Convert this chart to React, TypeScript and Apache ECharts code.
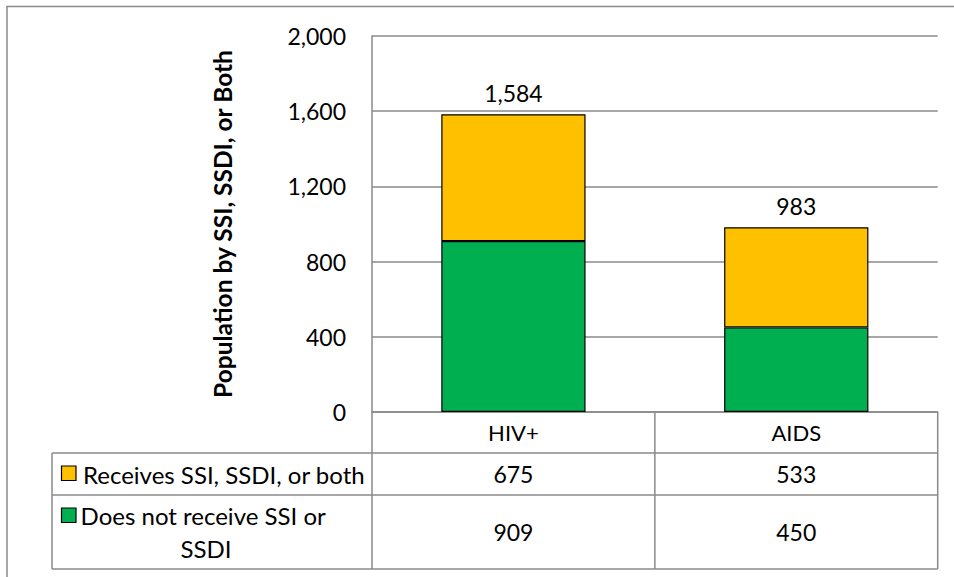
import React, { useEffect, useRef } from "react";
import * as echarts from "echarts";

const categories = ["HIV+", "AIDS"];
const receivesValues = [675, 533];
const notReceivesValues = [909, 450];
const seriesNames = ["Receives SSI, SSDI, or both", "Does not receive SSI or SSDI"];
const seriesColors = ["#FFC000", "#00B050"];
const yAxisTitle = "Population by SSI, SSDI, or Both";
const yMin = 0;
const yMax = 2000;
const yInterval = 400;

const FONT = "Lato, 'Open Sans', sans-serif";
const GRID_LEFT = 372;
const GRID_RIGHT_X = 937.7;
const GRID_TOP = 36;
const AXIS_Y = 412;
const TABLE_LEFT = 52;
const ROW_LINES = [453, 495, 569];
const LINE_COLOR = "#8a8a8a";
const NUM_SIZE = 23;
const LEGEND_SIZE = 24;

const fmt = (v: number) => v.toLocaleString("en-US");

export default function App() {
  const ref = useRef<HTMLDivElement>(null);

  useEffect(() => {
    if (!ref.current) return;
    const chart = echarts.init(ref.current, null, { renderer: "svg" });
    const totals = categories.map((_, i) => receivesValues[i] + notReceivesValues[i]);

    chart.setOption({
      animation: false,
      backgroundColor: "#ffffff",
      grid: {
        left: GRID_LEFT,
        right: 954 - GRID_RIGHT_X,
        top: GRID_TOP,
        bottom: 577 - AXIS_Y,
        containLabel: false,
      },
      xAxis: {
        type: "category",
        data: categories,
        axisLine: { show: true, lineStyle: { color: LINE_COLOR, width: 1.5 } },
        axisTick: { show: false },
        axisLabel: { show: false },
        splitLine: { show: false },
      },
      yAxis: {
        type: "value",
        min: yMin,
        max: yMax,
        interval: yInterval,
        name: yAxisTitle,
        nameLocation: "middle",
        nameRotate: 90,
        nameGap: 137,
        nameTextStyle: { fontFamily: FONT, fontSize: 24.5, fontWeight: "bold", color: "#000" },
        axisLine: { show: true, lineStyle: { color: LINE_COLOR, width: 1.5 } },
        axisTick: { show: false },
        axisLabel: {
          fontFamily: FONT,
          fontSize: NUM_SIZE,
          color: "#000",
          margin: 26,
          formatter: (v: number) => fmt(v),
        },
        splitLine: { show: true, lineStyle: { color: LINE_COLOR, width: 1.5 } },
      },
      series: [
        {
          name: seriesNames[1],
          type: "bar",
          stack: "total",
          data: notReceivesValues,
          barWidth: "51%",
          itemStyle: { color: seriesColors[1], borderColor: "#000", borderWidth: 1.2 },
        },
        {
          name: seriesNames[0],
          type: "bar",
          stack: "total",
          data: receivesValues,
          barWidth: "51%",
          itemStyle: { color: seriesColors[0], borderColor: "#000", borderWidth: 1.2 },
          label: {
            show: true,
            position: "top",
            distance: 10,
            fontFamily: FONT,
            fontSize: NUM_SIZE,
            color: "#000",
            formatter: (p: any) => fmt(totals[p.dataIndex]),
          },
        },
      ],
    });

    const centers = categories.map((c) => chart.convertToPixel({ xAxisIndex: 0 }, c) as number);
    const boundaries = [GRID_LEFT, ...centers.slice(0, -1).map((c, i) => (c + centers[i + 1]) / 2), GRID_RIGHT_X];

    const lineStyle = { stroke: LINE_COLOR, lineWidth: 1.5 };
    const g: any[] = [];
    g.push({ type: "rect", shape: { x: 7, y: 6.5, width: 980, height: 620 }, style: { fill: "none", stroke: LINE_COLOR, lineWidth: 1.5 }, silent: true });
    ROW_LINES.forEach((y) => {
      g.push({ type: "line", shape: { x1: TABLE_LEFT, y1: y, x2: GRID_RIGHT_X, y2: y }, style: lineStyle });
    });
    g.push({ type: "line", shape: { x1: TABLE_LEFT, y1: ROW_LINES[0], x2: TABLE_LEFT, y2: ROW_LINES[2] }, style: lineStyle });
    g.push({ type: "line", shape: { x1: GRID_LEFT, y1: AXIS_Y, x2: GRID_LEFT, y2: ROW_LINES[2] }, style: lineStyle });
    boundaries.slice(1).forEach((x) => {
      g.push({ type: "line", shape: { x1: x, y1: AXIS_Y, x2: x, y2: ROW_LINES[2] }, style: lineStyle });
    });
    const headerMid = (AXIS_Y + ROW_LINES[0]) / 2;
    const row1Mid = (ROW_LINES[0] + ROW_LINES[1]) / 2;
    const row2Mid = (ROW_LINES[1] + ROW_LINES[2]) / 2;
    const txt = (x: number, y: number, text: string, size: number, extra: any = {}) => ({
      type: "text",
      x,
      y,
      style: { text, fontFamily: FONT, fontSize: size, fill: "#000", align: "center", verticalAlign: "middle", ...extra },
    });
    categories.forEach((c, i) => {
      g.push(txt(centers[i], headerMid, c, 22));
      g.push(txt(centers[i], row1Mid, fmt(receivesValues[i]), NUM_SIZE));
      g.push(txt(centers[i], row2Mid, fmt(notReceivesValues[i]), NUM_SIZE));
    });
    g.push({ type: "rect", shape: { x: 61.5, y: 466, width: 14.5, height: 14.5 }, style: { fill: seriesColors[0], stroke: "#000", lineWidth: 1.2 } });
    g.push({ type: "rect", shape: { x: 61.5, y: 508, width: 14.5, height: 14.5 }, style: { fill: seriesColors[1], stroke: "#000", lineWidth: 1.2 } });
    g.push(txt(83, row1Mid, seriesNames[0], LEGEND_SIZE, { align: "left" }));
    g.push(txt(206, row2Mid, seriesNames[1], LEGEND_SIZE, { width: 272, overflow: "break", lineHeight: 33 }));

    chart.setOption({ graphic: { elements: g } });

    return () => chart.dispose();
  }, []);

  return <div ref={ref} style={{ position: "fixed", left: 0, top: 0, width: 954, height: 577 }} />;
}
